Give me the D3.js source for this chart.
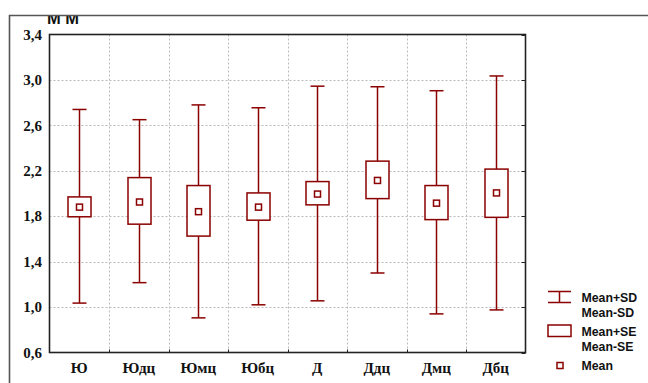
<!DOCTYPE html>
<html><head><meta charset="utf-8">
<script src="https://cdn.jsdelivr.net/npm/d3@7"></script>
<style>html,body{margin:0;padding:0;background:#fff}svg{display:block}</style>
</head><body>
<script>
const categories = ["Ю","Юдц","Юмц","Юбц","Д","Ддц","Дмц","Дбц"];
const meanValues = [1.88, 1.925, 1.84, 1.88, 1.995, 2.115, 1.915, 2.005];
const seUpper    = [1.97, 2.14, 2.07, 2.005, 2.105, 2.285, 2.07, 2.215];
const seLower    = [1.795, 1.73, 1.625, 1.765, 1.9, 1.955, 1.77, 1.79];
const sdUpper    = [2.74, 2.65, 2.78, 2.755, 2.945, 2.94, 2.905, 3.035];
const sdLower    = [1.035, 1.215, 0.905, 1.02, 1.055, 1.30, 0.94, 0.975];
const yTicks = [0.6, 1.0, 1.4, 1.8, 2.2, 2.6, 3.0, 3.4];
const yTitle = "М М";
const legendLabels = [["Mean+SD","Mean-SD"],["Mean+SE","Mean-SE"],["Mean"]];

const W = 648, H = 383;
const col = "#8b0000";
const svg = d3.select("body").append("svg").attr("width", W).attr("height", H);

svg.append("defs").append("clipPath").attr("id", "tclip")
  .append("rect").attr("x", 0).attr("y", 15).attr("width", 200).attr("height", 30);

// title (clipped at the frame top)
svg.append("text").attr("x", 47).attr("y", 23.5).attr("clip-path", "url(#tclip)")
  .attr("font-family", "'Liberation Sans', Arial, sans-serif").attr("font-weight", "bold")
  .attr("font-size", 16.5).attr("fill", "#111").text(yTitle);

// outer frame (left + top)
svg.append("path").attr("d", "M9.5,383 L9.5,15.5 L648,15.5").attr("fill","none")
  .attr("stroke","#555").attr("stroke-width",1.6);

const L = 49.5, T = 34.5, R = 525.5, B = 352.5;
const x = d3.scaleBand().domain(categories).range([L, R]);
const y = d3.scaleLinear().domain([0.6, 3.4]).range([B, T]);

// grid
const g = svg.append("g");
g.selectAll(".hg").data(yTicks.slice(1, -1)).join("line")
  .attr("x1", L).attr("x2", R).attr("y1", d => Math.round(y(d)) + 0.5).attr("y2", d => Math.round(y(d)) + 0.5)
  .attr("stroke", "#bbb").attr("stroke-dasharray", "2,2");
g.selectAll(".vg").data(categories.slice(1)).join("line")
  .attr("x1", d => Math.round(x(d)) + 0.5).attr("x2", d => Math.round(x(d)) + 0.5).attr("y1", T).attr("y2", B)
  .attr("stroke", "#bbb").attr("stroke-dasharray", "2,2");

// ticks (inward)
g.selectAll(".rt").data(yTicks).join("line")
  .attr("x1", R - 4).attr("x2", R).attr("y1", d => Math.round(y(d)) + 0.5).attr("y2", d => Math.round(y(d)) + 0.5)
  .attr("stroke", "#222");
g.selectAll(".bt").data(categories.slice(1)).join("line")
  .attr("x1", d => Math.round(x(d)) + 0.5).attr("x2", d => Math.round(x(d)) + 0.5).attr("y1", B - 3).attr("y2", B)
  .attr("stroke", "#222");

// plot frame
svg.append("rect").attr("x", L).attr("y", T).attr("width", R - L).attr("height", B - T)
  .attr("fill", "none").attr("stroke", "#222").attr("stroke-width", 1.6);

// y tick labels
svg.selectAll(".yl").data(yTicks).join("text")
  .attr("x", 42).attr("y", d => y(d)).attr("dy", "0.35em").attr("text-anchor", "end")
  .attr("font-family", "'Liberation Serif', 'Times New Roman', serif").attr("font-weight", "bold")
  .attr("font-size", 15).attr("fill", "#111")
  .text(d => d.toFixed(1).replace(".", ","));

// x labels
svg.selectAll(".xl").data(categories).join("text")
  .attr("x", d => x(d) + x.bandwidth() / 2).attr("y", 372.5).attr("text-anchor", "middle")
  .attr("font-family", "'Liberation Serif', 'Times New Roman', serif").attr("font-weight", "bold")
  .attr("font-size", 15).attr("fill", "#111")
  .text(d => d);

// boxes
const bw = 23, cw = 14, mw = 6;
const data = categories.map((c, i) => ({c, m: meanValues[i], su: seUpper[i], sl: seLower[i], du: sdUpper[i], dl: sdLower[i]}));
const bx = svg.append("g").attr("stroke", col).attr("fill", "none").attr("stroke-width", 1.5);
data.forEach(d => {
  const cx = Math.round(x(d.c) + x.bandwidth() / 2) + 0.5;
  bx.append("line").attr("x1", cx).attr("x2", cx).attr("y1", y(d.du)).attr("y2", y(d.su));
  bx.append("line").attr("x1", cx).attr("x2", cx).attr("y1", y(d.sl)).attr("y2", y(d.dl));
  bx.append("line").attr("x1", cx - cw / 2).attr("x2", cx + cw / 2).attr("y1", y(d.du)).attr("y2", y(d.du));
  bx.append("line").attr("x1", cx - cw / 2).attr("x2", cx + cw / 2).attr("y1", y(d.dl)).attr("y2", y(d.dl));
  bx.append("rect").attr("x", cx - bw / 2).attr("y", y(d.su)).attr("width", bw).attr("height", y(d.sl) - y(d.su))
    .attr("fill", "#fff");
  bx.append("rect").attr("x", cx - mw / 2).attr("y", y(d.m) - mw / 2).attr("width", mw).attr("height", mw)
    .attr("fill", "#fff");
});

// legend
const lg = svg.append("g");
const lf = "'Liberation Sans', Arial, sans-serif";
lg.append("path").attr("d", "M548,291.5 L571,291.5 M548,302.5 L571,302.5 M559.5,291.5 L559.5,302.5")
  .attr("stroke", col).attr("stroke-width", 1.5).attr("fill", "none");
lg.append("rect").attr("x", 548).attr("y", 325).attr("width", 23).attr("height", 11.5)
  .attr("stroke", col).attr("stroke-width", 1.5).attr("fill", "#fff");
lg.append("rect").attr("x", 557).attr("y", 362.5).attr("width", 6).attr("height", 6)
  .attr("stroke", col).attr("stroke-width", 1.5).attr("fill", "#fff");
const ly = [[302, 317], [335.5, 350.7], [370]];
legendLabels.forEach((arr, i) => arr.forEach((t, j) => {
  lg.append("text").attr("x", 581.5).attr("y", ly[i][j]).attr("font-family", lf).attr("font-weight", "bold")
    .attr("font-size", 12.3).attr("fill", "#111").text(t);
}));
</script>
</body></html>
